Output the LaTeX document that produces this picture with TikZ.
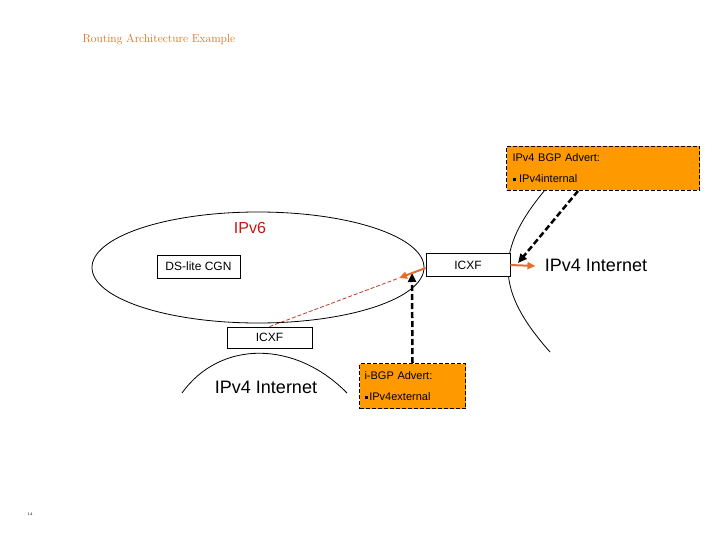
\documentclass[tikz,border=0pt]{standalone}
\usepackage{fontspec}
\setsansfont{Liberation Sans}
\usetikzlibrary{arrows.meta}
\definecolor{oranye}{RGB}{255,153,0}
\definecolor{panah}{RGB}{230,110,40}
\definecolor{merah}{RGB}{190,60,40}
\definecolor{judul}{RGB}{215,115,30}
\newcommand{\poin}{\rule[1.5pt]{3pt}{3pt}}
\begin{document}
\begin{tikzpicture}[x=1pt, y=-1pt, font=\sffamily,
    kotak/.style={draw, line width=0.8pt, minimum height=23pt, inner sep=0pt, fill=white, font=\sffamily\fontsize{12}{14}\selectfont},
    iklan/.style={draw, fill=oranye, line width=1pt, dash pattern=on 4pt off 2pt, anchor=north west, align=left, inner ysep=0pt, font=\sffamily\fontsize{11}{21}\selectfont},
    besar/.style={font=\sffamily\fontsize{18}{20}\selectfont},
    putus/.style={line width=2.5pt, dash pattern=on 6pt off 3pt, -{Triangle[length=9pt,width=8pt]}},
    oren/.style={draw=panah, line width=2pt, -{Triangle[length=8pt,width=7pt]}}]
\useasboundingbox (0,0) rectangle (720,540);

% judul
\node[anchor=west, font=\rmfamily\fontsize{11.6}{13}\selectfont, text=judul] (judul) at (79,40) {Routing Architecture Example};

% awan IPv6
\draw[line width=0.8pt] (258,267.5) ellipse [x radius=166, y radius=55.5];
\node[text={rgb,255:red,200;green,20;blue,20}, font=\sffamily\fontsize{16}{18}\selectfont] (ipvenam) at (250,228) {IPv6};

% busur IPv4 Internet
\draw[line width=0.8pt] (545,190) .. controls (495,250) and (495,290) .. (550,352);
\draw[line width=0.8pt] (182,393) .. controls (220,340) and (295,340) .. (347,393);
\node[besar] (inetA) at (596,265) {IPv4 Internet};
\node[besar] (inetB) at (266,387) {IPv4 Internet};

% kotak
\node[kotak, minimum width=83pt] (dslite) at (198.5,266.5) {DS-lite CGN};
\node[kotak, minimum width=84pt] (icxfA) at (468,265) {ICXF};
\node[kotak, minimum width=85pt, minimum height=21pt] (icxfB) at (269.5,337.5) {ICXF};

% iklan BGP
\node[iklan, minimum width=193pt, minimum height=44pt, text width=181pt, inner xsep=6pt] (advA) at (506,146) {IPv4 BGP Advert:\\ \poin\ IPv4internal};
\node[iklan, minimum width=106pt, minimum height=45pt, text width=96pt, inner xsep=5pt] (advB) at (359,363) {i-BGP Advert:\\ \poin\,IPv4external};

% panah
\coordinate (tujuanA) at (518,263);
\coordinate (tujuanB) at (412,273);
\coordinate (belok) at (399,278);
\draw[putus] (advA.-138) -- (tujuanA);
\draw[oren] (icxfA.east) -- ++(25,1);
\draw[putus] (advB.north) -- (tujuanB);
\draw[merah, line width=0.8pt, dash pattern=on 4pt off 2pt] (icxfB.north) -- (belok);
\draw[oren] (icxfA.west) ++(0,3) -- (belok);

% nomor halaman
\node[font=\fontsize{4}{5}\selectfont] (hal) at (30,514) {14};
\end{tikzpicture}
\end{document}
